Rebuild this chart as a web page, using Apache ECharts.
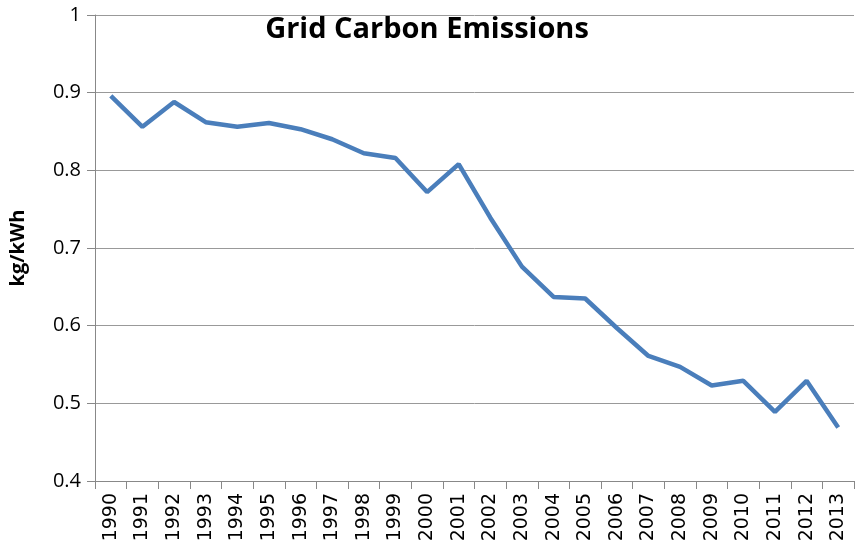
<!DOCTYPE html>
<html>
<head>
	<meta charset=utf-8>
	<title>Grid Carbon Emissions</title>
	<script src="https://cdn.jsdelivr.net/npm/echarts@6/dist/echarts.min.js"></script>
</head>
<body style="margin:0;">
<div id="main" style="width:856px; height:552px;"></div>
<script type="text/javascript">
	// 年份和排放值 (kg/kWh)
	var years = ['1990','1991','1992','1993','1994','1995','1996','1997','1998','1999','2000','2001',
		'2002','2003','2004','2005','2006','2007','2008','2009','2010','2011','2012','2013'];
	var emissions = [0.896, 0.856, 0.888, 0.862, 0.856, 0.861, 0.853, 0.840, 0.822, 0.816, 0.772, 0.808,
		0.739, 0.676, 0.637, 0.635, 0.597, 0.561, 0.547, 0.523, 0.529, 0.489, 0.529, 0.469];

	var myChart = echarts.init(document.getElementById('main'));
	myChart.setOption({
		animation: false,
		title: {
			text: 'Grid Carbon Emissions',
			left: 422,
			textAlign: 'center',
			top: 10,
			textStyle: { fontFamily: 'Open Sans', fontWeight: 'bold', fontSize: 29, color: '#000' }
		},
		grid: { left: 94, right: 2, top: 15, bottom: 71 },
		xAxis: {
			type: 'category',
			data: years,
			boundaryGap: true,
			axisLine: { lineStyle: { color: '#888', width: 1 } },
			axisTick: { show: true, length: 8, alignWithLabel: false, lineStyle: { color: '#888' } },
			axisLabel: { rotate: 90, margin: 12, fontFamily: 'DejaVu Sans', fontSize: 19, color: '#000' }
		},
		yAxis: {
			type: 'value',
			min: 0.4,
			max: 1,
			interval: 0.1,
			name: 'kg/kWh',
			nameLocation: 'middle',
			nameGap: 67,
			nameTextStyle: { fontFamily: 'Open Sans', fontWeight: 'bold', fontSize: 20, color: '#000' },
			axisLine: { show: true, lineStyle: { color: '#888' } },
			axisTick: { show: true, length: 8, lineStyle: { color: '#888' } },
			axisLabel: { margin: 14, fontFamily: 'Open Sans', fontSize: 20, color: '#000',
				formatter: function (v) { return +v.toFixed(1) + ''; } },
			splitLine: { lineStyle: { color: '#999' } }
		},
		series: [{
			type: 'line',
			data: emissions,
			symbol: 'none',
			lineStyle: { color: '#4a7ebb', width: 4.5 }
		}]
	});
</script>
</body>
</html>
